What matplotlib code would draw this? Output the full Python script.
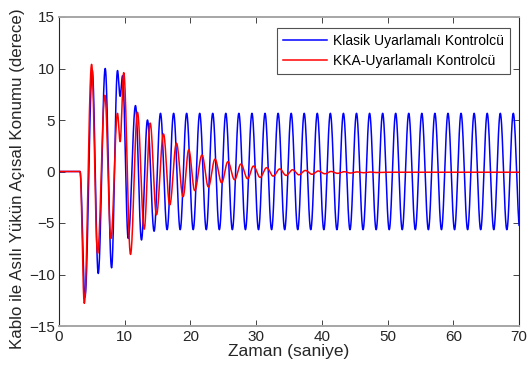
import numpy as np
import matplotlib
matplotlib.use('Agg')
import matplotlib.pyplot as plt

plt.rcParams['font.family'] = ['Liberation Sans', 'DejaVu Sans']

# extrema (time in s, angle in degrees)
blue_start_t = [0.0, 3.2, 3.95, 5.06, 5.97, 7.03, 8.0, 8.9, 9.3, 9.67, 10.53, 11.64, 12.55, 13.46, 14.47]
blue_start_y = [0.0, 0.0, -12.2, 9.85, -9.9, 10.0, -9.35, 9.8, 7.3, 9.3, -6.5, 6.4, -6.65, 5.0, -5.8]

blue_peak_t = [15.44, 17.44, 19.42, 21.41, 23.39, 25.38, 27.37, 29.36, 31.35, 33.34,
               35.33, 37.31, 39.30, 41.29, 43.28, 45.27, 47.26, 49.25, 51.23, 53.22,
               55.21, 57.20, 59.19, 61.18, 63.17, 65.16, 67.15, 69.13]
blue_trough_t = [16.45, 18.44, 20.42, 22.41, 24.40, 26.38, 28.37, 30.36, 32.35, 34.34,
                 36.33, 38.31, 40.30, 42.29, 44.28, 46.27, 48.26, 50.25, 52.23, 54.22,
                 56.21, 58.20, 60.19, 62.18, 64.17, 66.16, 68.15, 70.14]
blue_peak_y = [5.65] * len(blue_peak_t)
blue_trough_y = [-5.65] * len(blue_trough_t)

red_t = [0.0, 3.2, 3.85, 4.96, 5.87, 6.98, 7.9, 8.9, 9.3, 9.85, 10.88, 11.94, 12.96,
         13.87, 14.83, 15.9, 16.85, 17.87, 18.88, 19.74, 20.65, 21.76, 22.73, 23.74,
         24.75, 25.7, 26.72, 27.68, 28.7, 29.6, 30.6, 31.6, 32.6, 33.6, 34.55, 35.55,
         36.5, 37.5, 38.5, 39.45, 40.45, 41.4, 42.4, 43.4, 44.35, 45.35, 46.3, 47.3,
         48.3, 50.0, 70.0]
red_y = [0.0, 0.0, -12.8, 10.4, -7.95, 7.4, -6.5, 5.65, 2.9, 9.6, -8.05, 5.75, -5.6,
         4.7, -4.2, 3.65, -3.25, 2.75, -2.45, 2.1, -1.85, 1.6, -1.5, 1.2,
         -1.1, 0.95, -0.8, 0.72, -0.7, 0.53, -0.57, 0.37, -0.45, 0.25, -0.38, 0.17,
         -0.32, 0.1, -0.27, 0.05, -0.22, 0.0, -0.18, -0.02, -0.15, -0.04, -0.12, -0.05,
         -0.1, -0.07, -0.07]


def smooth_through(tk, yk, n=40):
    # half-cosine segments between successive extrema
    ts, ys = [], []
    for i in range(len(tk) - 1):
        s = np.linspace(0, 1, n, endpoint=False)
        ts.append(tk[i] + (tk[i+1] - tk[i]) * s)
        ys.append(yk[i] + (yk[i+1] - yk[i]) * (1 - np.cos(np.pi * s)) / 2)
    ts.append([tk[-1]])
    ys.append([yk[-1]])
    return np.concatenate(ts), np.concatenate(ys)


steady = sorted(zip(blue_peak_t + blue_trough_t, blue_peak_y + blue_trough_y))
blue_t = blue_start_t + [p[0] for p in steady]
blue_y = blue_start_y + [p[1] for p in steady]

bt, by = smooth_through(blue_t, blue_y)
rt, ry = smooth_through(red_t, red_y)

fig = plt.figure(figsize=(5.31, 3.76), dpi=100)
ax = fig.add_axes([59/531, 1-326/376, 460/531, 309/376])

ax.plot(bt, by, color='#0000ff', lw=1.1, label='Klasik Uyarlamalı Kontrolcü')
ax.plot(rt, ry, color='#ff0000', lw=1.1, label='KKA-Uyarlamalı Kontrolcü')

ax.set_xlim(0, 70)
ax.set_ylim(-15, 15)
ax.set_xticks(np.arange(0, 71, 10))
ax.set_yticks(np.arange(-15, 16, 5))
ax.tick_params(direction='in', top=True, right=True, length=4.5, width=0.6,
               labelsize=11, colors='#262626', pad=3)
for side in ['left', 'right']:
    ax.spines[side].set_color('#262626')
    ax.spines[side].set_linewidth(0.8)
for side in ['top', 'bottom']:
    ax.spines[side].set_color('#a6a6a6')
    ax.spines[side].set_linewidth(1.4)

ax.set_xlabel('Zaman (saniye)', fontsize=12.5, color='#262626', labelpad=0)
ax.set_ylabel('Kablo ile Asılı Yükün Açısal Konumu (derece)', fontsize=12.2,
              color='#262626')
ax.yaxis.set_label_coords(-0.073, 0.478)

leg = ax.legend(loc='upper right', bbox_to_anchor=(510/460 - 59/460, 1 - 11/309),
                fontsize=10, frameon=True, fancybox=False, handlelength=3.2,
                handletextpad=0.4, borderpad=0.45, labelspacing=0.4, borderaxespad=0)
leg.get_frame().set_edgecolor('#262626')
leg.get_frame().set_linewidth(0.8)

fig.savefig('out.png', dpi=100)
